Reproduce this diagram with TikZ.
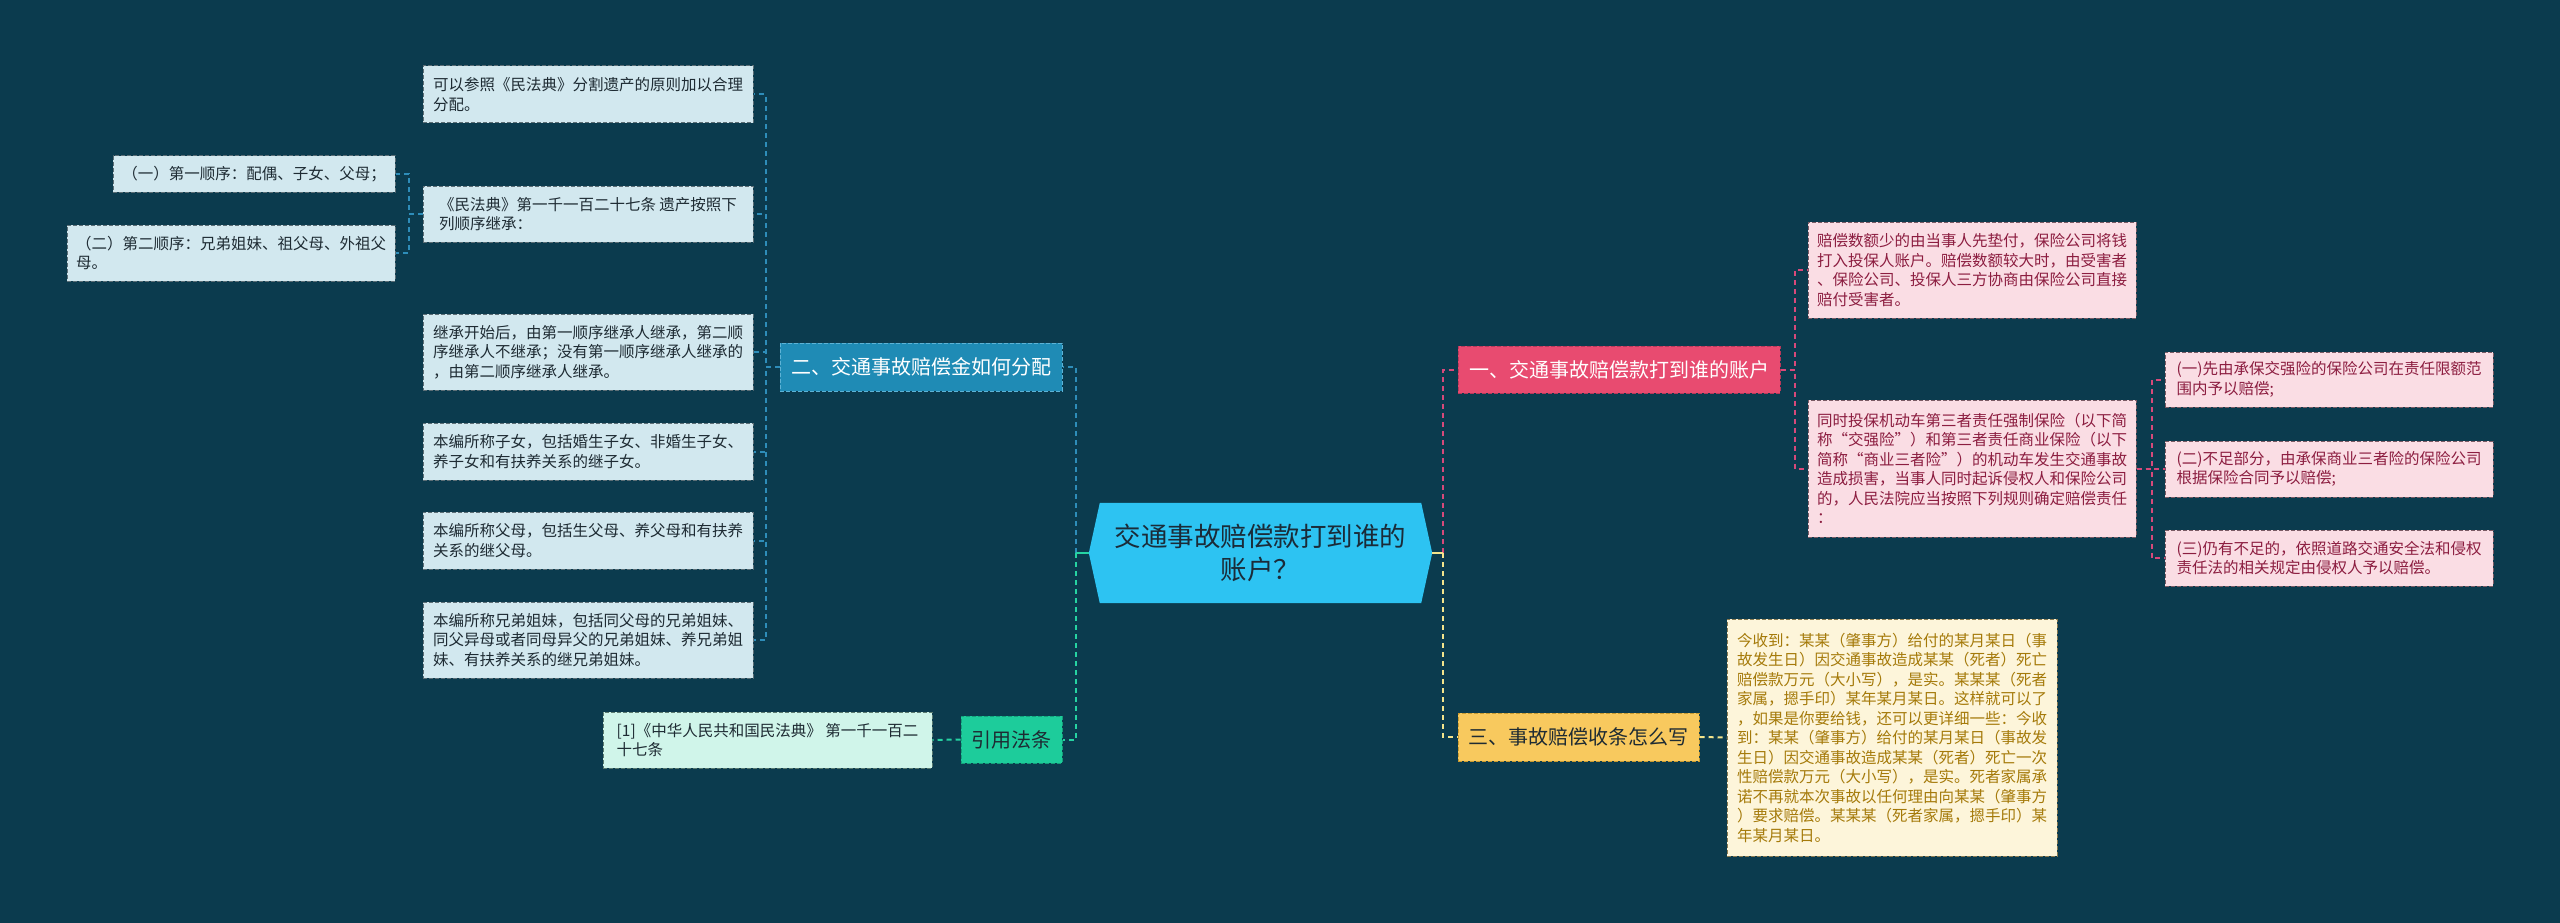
\documentclass[tikz,border=0pt]{standalone}
\usepackage{fontspec}
\setmainfont{Noto Sans CJK SC}
\usetikzlibrary{backgrounds}
\definecolor{bgc}{HTML}{0B3B4E}
\definecolor{rootc}{HTML}{2DC3F2}
\definecolor{roottxt}{HTML}{1B2B38}
\definecolor{bluec}{HTML}{1F8BB5}
\definecolor{blued}{HTML}{5DB3D6}
\definecolor{bluel}{HTML}{2E8DB9}
\definecolor{pinkc}{HTML}{E84B70}
\definecolor{pinkd}{HTML}{B8385A}
\definecolor{pinkl}{HTML}{D8497A}
\definecolor{yelc}{HTML}{F8C95E}
\definecolor{yeld}{HTML}{C89A30}
\definecolor{yell}{HTML}{F3E48C}
\definecolor{grnc}{HTML}{1DCC9B}
\definecolor{grnd}{HTML}{14A07A}
\definecolor{grnl}{HTML}{26D3A2}
\definecolor{leafbl}{HTML}{D2E8EF}
\definecolor{leafbld}{HTML}{5C6E76}
\definecolor{leafpk}{HTML}{FADDE4}
\definecolor{leafpkd}{HTML}{7A5A64}
\definecolor{leafpkt}{HTML}{8C1D40}
\definecolor{leafcr}{HTML}{FDF5DA}
\definecolor{leafcrd}{HTML}{8A7A50}
\definecolor{leafcrt}{HTML}{A57A0A}
\definecolor{leafmt}{HTML}{D0F5EA}
\definecolor{leafmtd}{HTML}{5A7A70}
\definecolor{darktxt}{HTML}{1E2B33}
\newcommand{\leaffont}{\fontsize{15.5}{19.5}\selectfont}
\newcommand{\branchfont}{\fontsize{20}{24}\selectfont}
\newcommand{\rootfont}{\fontsize{26.5}{33}\selectfont}
\tikzset{
  box/.style={rectangle, inner sep=0pt, line width=1pt, dash pattern=on 4pt off 2pt},
  leafB/.style={box, fill=leafbl, draw=leafbld, text=darktxt, font=\leaffont, align=left},
  leafP/.style={box, fill=leafpk, draw=leafpkd, text=leafpkt, font=\leaffont, align=left},
  leafC/.style={box, fill=leafcr, draw=leafcrd, text=leafcrt, font=\leaffont, align=left},
  leafM/.style={box, fill=leafmt, draw=leafmtd, text=darktxt, font=\leaffont, align=left},
  brB/.style={box, fill=bluec, draw=blued, text=white, font=\branchfont},
  brP/.style={box, fill=pinkc, draw=pinkd, text=white, font=\branchfont},
  brY/.style={box, fill=yelc, draw=yeld, text=darktxt, font=\branchfont},
  brG/.style={box, fill=grnc, draw=grnd, text=darktxt, font=\branchfont},
  conn/.style={line width=2pt, dash pattern=on 5pt off 4pt},
  stub/.style={line width=2pt},
}
\begin{document}
\begin{tikzpicture}[x=1pt,y=-1pt]
\begin{pgfonlayer}{background}
\fill[bgc] (0,0) rectangle (2560,923);
\end{pgfonlayer}
\path[use as bounding box] (0,0) rectangle (2560,923);

% root
\node[rectangle, inner sep=0pt, minimum width=343pt, minimum height=100pt, text=roottxt, font=\rootfont, align=center] (root) at (1260.5,553) {交通事故赔偿款打到谁的\\账户？};
\begin{pgfonlayer}{background}
\fill[rootc] ([xshift=11pt]root.north west) -- ([xshift=-11pt]root.north east) -- (root.east) -- ([xshift=-11pt]root.south east) -- ([xshift=11pt]root.south west) -- (root.west) -- cycle;
\end{pgfonlayer}
\coordinate (rootL) at (1076,553);
\coordinate (rootR) at (1443,553);

% branches
\node[brB, minimum width=282pt, minimum height=48pt] (b2) at (921,367) {二、交通事故赔偿金如何分配};
\node[brG, minimum width=101pt, minimum height=47pt] (b4) at (1011.5,739.5) {引用法条};
\node[brP, minimum width=322pt, minimum height=47pt] (b1) at (1619,369.5) {一、交通事故赔偿款打到谁的账户};
\node[brY, minimum width=241pt, minimum height=48pt] (b3) at (1578.5,737) {三、事故赔偿收条怎么写};

% left leaves
\node[leafB, minimum width=330pt, minimum height=57pt] (l1) at (588,94.5) {可以参照《民法典》分割遗产的原则加以合理\\分配。};
\node[leafB, minimum width=330pt, minimum height=56pt] (l2) at (588,214) {《民法典》第一千一百二十七条 遗产按照下\\列顺序继承：};
\node[leafB, minimum width=330pt, minimum height=76pt] (l3) at (588,352) {继承开始后，由第一顺序继承人继承，第二顺\\序继承人不继承；没有第一顺序继承人继承的\\，由第二顺序继承人继承。};
\node[leafB, minimum width=330pt, minimum height=57pt] (l4) at (588,451.5) {本编所称子女，包括婚生子女、非婚生子女、\\养子女和有扶养关系的继子女。};
\node[leafB, minimum width=330pt, minimum height=57pt] (l5) at (588,540.5) {本编所称父母，包括生父母、养父母和有扶养\\关系的继父母。};
\node[leafB, minimum width=330pt, minimum height=76pt] (l6) at (588,640) {本编所称兄弟姐妹，包括同父母的兄弟姐妹、\\同父异母或者同母异父的兄弟姐妹、养兄弟姐\\妹、有扶养关系的继兄弟姐妹。};
\node[leafB, minimum width=282pt, minimum height=36pt] (g1) at (254,174) {（一）第一顺序：配偶、子女、父母；};
\node[leafB, minimum width=328pt, minimum height=56pt] (g2) at (231,253) {（二）第二顺序：兄弟姐妹、祖父母、外祖父\\母。};
\node[leafM, minimum width=329pt, minimum height=56pt] (lm) at (767.5,740) {[1]《中华人民共和国民法典》 第一千一百二\\十七条};

% right leaves
\node[leafP, minimum width=328pt, minimum height=96pt] (la) at (1972,270) {赔偿数额少的由当事人先垫付，保险公司将钱\\打入投保人账户。赔偿数额较大时，由受害者\\、保险公司、投保人三方协商由保险公司直接\\赔付受害者。};
\node[leafP, minimum width=328pt, minimum height=137pt] (lb) at (1972,468.5) {同时投保机动车第三者责任强制保险（以下简\\称“交强险”）和第三者责任商业保险（以下\\简称“商业三者险”）的机动车发生交通事故\\造成损害，当事人同时起诉侵权人和保险公司\\的，人民法院应当按照下列规则确定赔偿责任\\：};
\node[leafP, minimum width=328pt, minimum height=55pt] (c1) at (2329,379.5) {(一)先由承保交强险的保险公司在责任限额范\\围内予以赔偿;};
\node[leafP, minimum width=328pt, minimum height=56pt] (c2) at (2329,469) {(二)不足部分，由承保商业三者险的保险公司\\根据保险合同予以赔偿;};
\node[leafP, minimum width=328pt, minimum height=56pt] (c3) at (2329,558) {(三)仍有不足的，依照道路交通安全法和侵权\\责任法的相关规定由侵权人予以赔偿。};
\node[leafC, minimum width=330pt, minimum height=237pt] (ld) at (1892,737.5) {今收到：某某（肇事方）给付的某月某日（事\\故发生日）因交通事故造成某某（死者）死亡\\赔偿款万元（大小写），是实。某某某（死者\\家属，摁手印）某年某月某日。这样就可以了\\，如果是你要给钱，还可以更详细一些：今收\\到：某某（肇事方）给付的某月某日（事故发\\生日）因交通事故造成某某（死者）死亡一次\\性赔偿款万元（大小写），是实。死者家属承\\诺不再就本次事故以任何理由向某某（肇事方\\）要求赔偿。某某某（死者家属，摁手印）某\\年某月某日。};

% connectors root -> branches
\draw[conn, bluel] (rootL) |- (b2.east);
\draw[conn, grnl] (rootL) |- (b4.east);
\draw[stub, grnl] (root.west) -- (rootL);
\draw[conn, pinkl] (rootR) |- (b1.west);
\draw[conn, yell] (rootR) |- (b3.west);
\draw[stub, yell] (root.east) -- (rootR);

% left side
\foreach \n in {l1,l2,l3,l4,l5,l6}
  \draw[conn, bluel] (b2.west) -- ++(-14,0) |- (\n.east);
\foreach \n in {g1,g2}
  \draw[conn, bluel] (l2.west) -- ++(-14,0) |- (\n.east);
\draw[conn, grnl] (b4.west) -- (lm.east);

% right side
\foreach \n in {la,lb}
  \draw[conn, pinkl] (b1.east) -- ++(14,0) |- (\n.west);
\foreach \n in {c1,c2,c3}
  \draw[conn, pinkl] (lb.east) -- ++(15,0) |- (\n.west);
\draw[conn, yell] (b3.east) -- (ld.west);
\end{tikzpicture}
\end{document}
